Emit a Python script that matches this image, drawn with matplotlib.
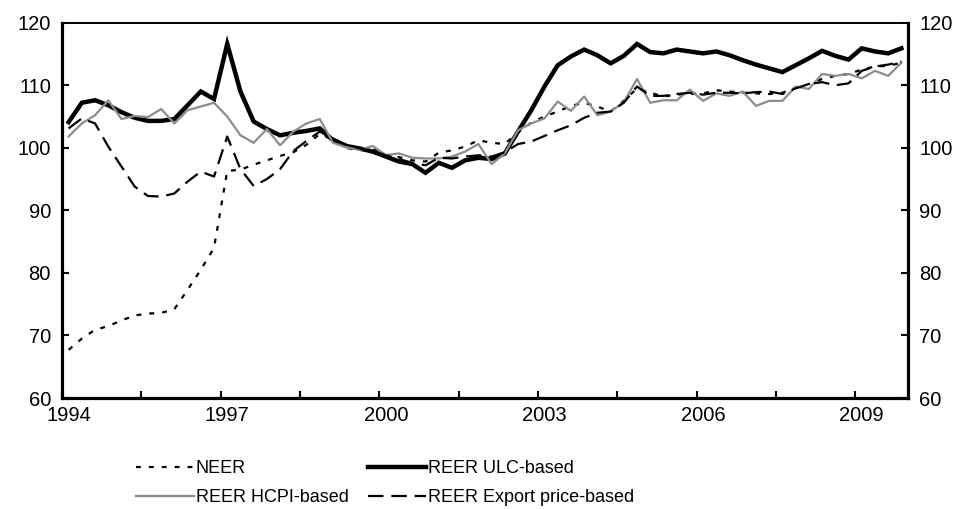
import numpy as np
import matplotlib
matplotlib.use("Agg")
import matplotlib.pyplot as plt

plt.rcParams['font.family'] = ['Liberation Sans', 'DejaVu Sans']

# quarterly, 1994Q1 - 2009Q4
year_labels = ['1994', '1997', '2000', '2003', '2006', '2009']

neer = [67.7, 69.5, 70.9, 71.5, 72.4, 73.2, 73.5, 73.6, 74.2, 77.3,
        80.5, 84.0, 96.3, 96.5, 97.3, 98.0, 98.7, 99.3, 100.5, 102.2,
        101.3, 100.0, 99.6, 99.8, 98.8, 98.5, 98.0, 97.8, 99.2, 99.6,
        100.2, 101.2, 100.8, 100.6, 102.5, 104.0, 105.0, 105.8, 106.7, 107.2,
        106.6, 105.8, 107.5, 109.5, 108.8, 108.2, 108.5, 108.6, 108.7, 109.2,
        109.0, 108.8, 108.7, 108.6, 108.8, 109.6, 110.2, 111.0, 111.5, 111.8,
        112.5, 113.0, 113.1, 113.6]

ulc = [104.1, 107.2, 107.6, 106.8, 105.7, 104.8, 104.3, 104.3, 104.6, 106.8,
       109.0, 107.8, 116.6, 109.0, 104.2, 103.0, 102.0, 102.4, 102.7, 103.1,
       101.2, 100.3, 99.9, 99.4, 98.6, 97.8, 97.4, 96.0, 97.6, 96.8,
       98.0, 98.4, 98.2, 99.1, 102.6, 106.0, 109.8, 113.2, 114.6, 115.7,
       114.8, 113.5, 114.7, 116.6, 115.3, 115.1, 115.7, 115.4, 115.1, 115.4,
       114.8, 114.0, 113.3, 112.7, 112.1, 113.2, 114.3, 115.5, 114.7, 114.1,
       115.9, 115.4, 115.1, 115.9]

hcpi = [101.8, 103.9, 105.2, 107.6, 104.6, 105.1, 104.9, 106.2, 103.9, 106.0,
        106.6, 107.2, 105.0, 102.0, 100.8, 103.0, 100.4, 102.6, 103.9, 104.6,
        100.8, 100.1, 99.65, 100.3, 98.85, 99.1, 98.4, 98.3, 98.3, 98.6,
        99.4, 100.6, 97.4, 99.1, 102.8, 103.9, 104.7, 107.4, 105.9, 108.2,
        105.2, 105.8, 107.3, 111.0, 107.2, 107.6, 107.6, 109.3, 107.5, 108.7,
        108.3, 109.0, 106.7, 107.5, 107.5, 109.8, 109.4, 111.8, 111.5, 111.8,
        111.1, 112.3, 111.5, 113.6]

export = [103.1, 104.7, 103.9, 100.2, 97.0, 93.8, 92.3, 92.2, 92.7, 94.6,
          96.2, 95.4, 101.8, 96.6, 93.9, 95.0, 96.6, 99.5, 101.1, 102.6,
          101.5, 100.5, 99.9, 99.5, 98.8, 98.2, 97.6, 97.2, 98.4, 98.3,
          98.6, 98.8, 98.6, 99.3, 100.6, 101.0, 101.9, 102.8, 103.6, 104.8,
          105.6, 105.8, 107.2, 109.8, 108.3, 108.3, 108.6, 108.8, 108.5, 108.8,
          108.8, 108.7, 108.9, 109.0, 108.6, 109.5, 110.2, 110.5, 110.0, 110.3,
          112.3, 113.0, 113.3, 113.8]

x = np.arange(len(ulc))

fig = plt.figure(figsize=(9.64, 5.09), dpi=100)
ax = fig.add_axes([62/964, 1 - 398/509, (908 - 62)/964, (398 - 22.7)/509])

l_neer, = ax.plot(x, neer, color='black', lw=1.6, linestyle=(0, (2.2, 3.6)), label='NEER')
l_ulc, = ax.plot(x, ulc, color='black', lw=3.2, solid_joinstyle='miter', label='REER ULC-based')
l_hcpi, = ax.plot(x, hcpi, color='#8c8c8c', lw=1.6, label='REER HCPI-based')
l_exp, = ax.plot(x, export, color='black', lw=1.6, linestyle=(0, (7, 3.5)), label='REER Export price-based')

ax.set_xlim(-0.5, len(x) - 0.5)
ax.set_ylim(60, 120)
ax.set_yticks(np.arange(60, 121, 10))

# labels on the category, tick marks every 6 quarters
ax.set_xticks(np.arange(0, len(x), 12))
ax.set_xticklabels(year_labels)
ax.set_xticks(np.arange(-0.5, len(x), 6), minor=True)
ax.tick_params(axis='x', which='major', length=0, pad=6, labelsize=14.5)
ax.tick_params(axis='x', which='minor', direction='in', length=5, width=1.5)
ax.tick_params(axis='y', direction='in', length=5, width=1.5, labelsize=14.5,
               left=True, right=True, labelleft=True, labelright=True, pad=8)

for side in ['left', 'right', 'bottom']:
    ax.spines[side].set_linewidth(2.3)
ax.spines['top'].set_linewidth(1.4)

fig.legend(handles=[l_neer, l_hcpi, l_ulc, l_exp], ncol=2, loc='upper left',
           bbox_to_anchor=(136/964, 1 - 460/509), frameon=False, fontsize=13,
           handlelength=3.2, handletextpad=0.1, columnspacing=1.1,
           labelspacing=0.68, borderaxespad=0, borderpad=0)

fig.savefig('out.png', dpi=100)
